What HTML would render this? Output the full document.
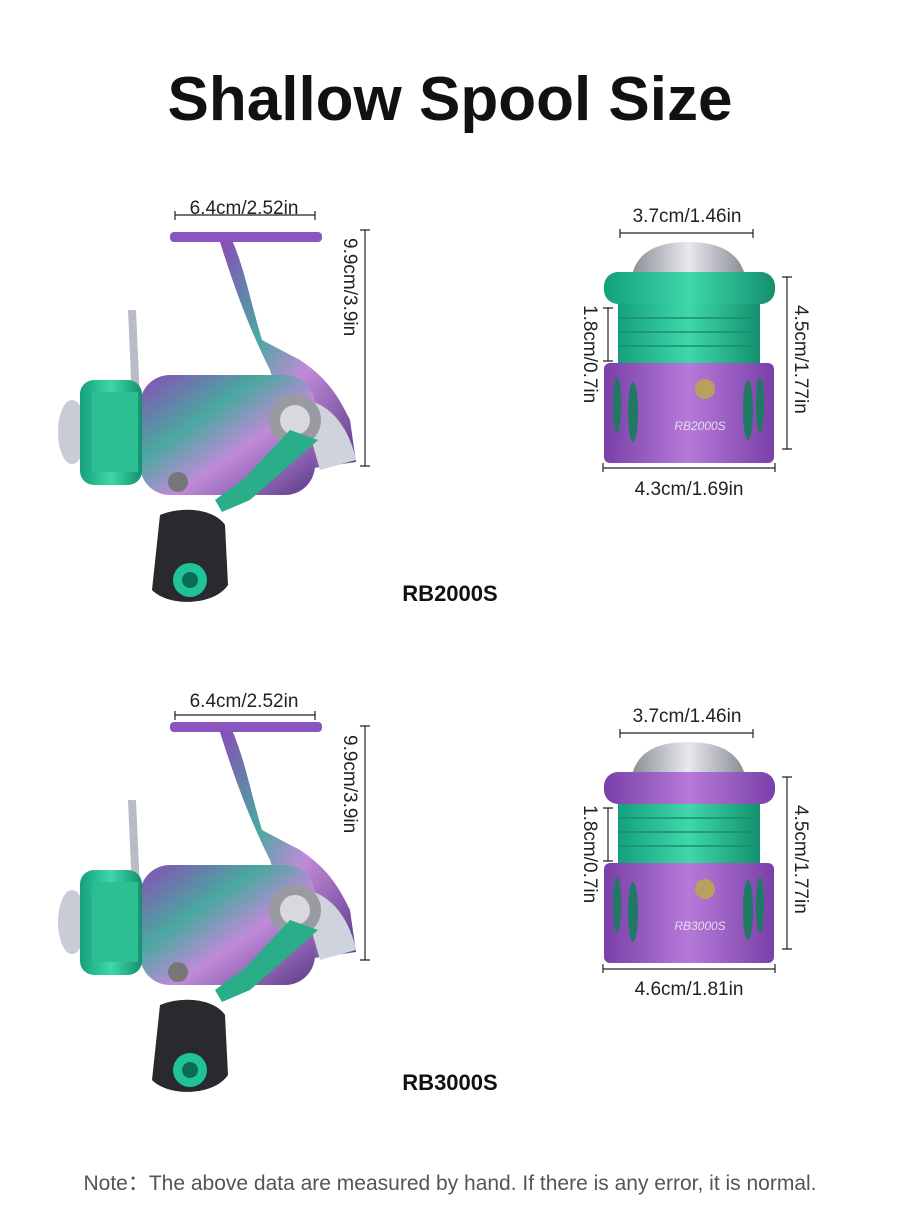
<!DOCTYPE html>
<html><head><meta charset="utf-8"><style>
body{margin:0;background:#fff;}
svg{display:block;font-family:"Liberation Sans",sans-serif;}
</style></head><body>
<svg width="900" height="1232" viewBox="0 0 900 1232" xmlns="http://www.w3.org/2000/svg">
<defs>
<linearGradient id="pg" x1="0" y1="0" x2="1" y2="0"><stop offset="0" stop-color="#7a3fa8"/><stop offset=".5" stop-color="#b57ad8"/><stop offset="1" stop-color="#7a3fa8"/></linearGradient>
<linearGradient id="gg" x1="0" y1="0" x2="1" y2="0"><stop offset="0" stop-color="#14a07c"/><stop offset=".5" stop-color="#3fd8aa"/><stop offset="1" stop-color="#13906e"/></linearGradient>
<linearGradient id="sg" x1="0" y1="0" x2="1" y2="0"><stop offset="0" stop-color="#8d8f98"/><stop offset=".5" stop-color="#e8e9ee"/><stop offset="1" stop-color="#8a8c95"/></linearGradient>
<linearGradient id="rb" x1="0" y1="0" x2="1" y2="1"><stop offset="0" stop-color="#8a4bb8"/><stop offset=".35" stop-color="#4aa8a0"/><stop offset=".6" stop-color="#c08ad8"/><stop offset="1" stop-color="#5a3a8a"/></linearGradient>
<g id="reel">
<rect x="170" y="232" width="152" height="10" rx="4" fill="#8a55c0"/>
<path d="M232 240 C245 270 250 300 262 340 L300 360 C330 380 340 400 350 420 L356 462 L300 470 L270 370 C250 330 235 290 220 242 Z" fill="url(#rb)"/>
<path d="M128 310 L136 310 L140 400 L132 400 Z" fill="#b8bcc6"/>
<rect x="140" y="375" width="175" height="120" rx="30" fill="url(#rb)"/>
<path d="M300 400 C330 400 350 430 356 460 L320 470 Z" fill="#cfd3dc"/>
<circle cx="295" cy="420" r="26" fill="#9a9aa2"/><circle cx="295" cy="420" r="15" fill="#d8d8dd"/>
<ellipse cx="72" cy="432" rx="14" ry="32" fill="#c8ccd6"/>
<rect x="80" y="380" width="62" height="105" rx="14" fill="url(#gg)"/>
<rect x="92" y="392" width="46" height="80" fill="#2bbf92"/>
<path d="M290 430 L318 440 L250 500 L222 512 L215 500 L245 478 Z" fill="#2aae8a"/>
<circle cx="178" cy="482" r="10" fill="#777"/>
<path d="M160 515 C185 505 215 510 225 525 L228 585 C215 605 170 608 152 590 Z" fill="#2a2a2e"/>
<circle cx="190" cy="580" r="17" fill="#1fc299"/><circle cx="190" cy="580" r="8" fill="#0c6b55"/>
</g>
<g id="spoolbase">
<path d="M632 275 C638 250 660 242 688 242 C716 242 738 250 745 275 Z" fill="url(#sg)"/>
<rect x="618" y="300" width="142" height="66" fill="url(#gg)"/>
<g stroke="#1a8d6c" stroke-width="1.5"><line x1="618" y1="318" x2="760" y2="318"/><line x1="618" y1="332" x2="760" y2="332"/><line x1="618" y1="346" x2="760" y2="346"/></g>
<rect x="604" y="363" width="170" height="100" rx="6" fill="url(#pg)"/>
<g fill="#1e7a63"><ellipse cx="617" cy="405" rx="4" ry="28"/><ellipse cx="633" cy="412" rx="5" ry="30"/><ellipse cx="760" cy="405" rx="4" ry="28"/><ellipse cx="748" cy="410" rx="5" ry="30"/></g>
<circle cx="705" cy="389" r="10" fill="#b8a060"/>
</g>
</defs>
<text x="450" y="120" text-anchor="middle" font-size="62" font-weight="bold" fill="#111">Shallow Spool Size</text>

<!-- block 1 -->
<use href="#reel"/>
<g stroke="#222" stroke-width="1.2" fill="none">
<path d="M175 211 V220 M175 215 H315 M315 211 V220"/>
<path d="M360 230 H370 M365 230 V466 M360 466 H370"/>
</g>
<text x="244" y="214" text-anchor="middle" font-size="19" fill="#222">6.4cm/2.52in</text>
<text transform="translate(344,238) rotate(90)" font-size="19" fill="#222">9.9cm/3.9in</text>
<text x="450" y="601" text-anchor="middle" font-size="22" font-weight="bold" fill="#111">RB2000S</text>

<use href="#spoolbase"/>
<rect x="604" y="272" width="171" height="32" rx="14" fill="url(#gg)"/>
<text x="700" y="430" text-anchor="middle" font-size="12" fill="#e8d8f0" font-style="italic">RB2000S</text>
<g stroke="#222" stroke-width="1.2" fill="none">
<path d="M620 229 V238 M620 233 H753 M753 229 V238"/>
<path d="M782 277 H792 M787 277 V449 M782 449 H792"/>
<path d="M603 308 H613 M608 308 V361 M603 361 H613"/>
<path d="M603 463 V472 M603 468 H775 M775 463 V472"/>
</g>
<text x="687" y="222" text-anchor="middle" font-size="19" fill="#222">3.7cm/1.46in</text>
<text x="689" y="495" text-anchor="middle" font-size="19" fill="#222">4.3cm/1.69in</text>
<text transform="translate(795,305) rotate(90)" font-size="19" fill="#222">4.5cm/1.77in</text>
<text transform="translate(584,305) rotate(90)" font-size="19" fill="#222">1.8cm/0.7in</text>

<!-- block 2 -->
<use href="#reel" transform="translate(0,490)"/>
<g stroke="#222" stroke-width="1.2" fill="none">
<path d="M175 711 V720 M175 715 H315 M315 711 V720"/>
<path d="M360 726 H370 M365 726 V960 M360 960 H370"/>
</g>
<text x="244" y="707" text-anchor="middle" font-size="19" fill="#222">6.4cm/2.52in</text>
<text transform="translate(344,735) rotate(90)" font-size="19" fill="#222">9.9cm/3.9in</text>
<text x="450" y="1090" text-anchor="middle" font-size="22" font-weight="bold" fill="#111">RB3000S</text>

<use href="#spoolbase" transform="translate(0,500)"/>
<rect x="604" y="772" width="171" height="32" rx="14" fill="url(#pg)"/>
<text x="700" y="930" text-anchor="middle" font-size="12" fill="#e8d8f0" font-style="italic">RB3000S</text>
<g stroke="#222" stroke-width="1.2" fill="none">
<path d="M620 729 V738 M620 733 H753 M753 729 V738"/>
<path d="M782 777 H792 M787 777 V949 M782 949 H792"/>
<path d="M603 808 H613 M608 808 V861 M603 861 H613"/>
<path d="M603 964 V973 M603 969 H775 M775 964 V973"/>
</g>
<text x="687" y="722" text-anchor="middle" font-size="19" fill="#222">3.7cm/1.46in</text>
<text x="689" y="995" text-anchor="middle" font-size="19" fill="#222">4.6cm/1.81in</text>
<text transform="translate(795,805) rotate(90)" font-size="19" fill="#222">4.5cm/1.77in</text>
<text transform="translate(584,805) rotate(90)" font-size="19" fill="#222">1.8cm/0.7in</text>

<text x="450" y="1190" text-anchor="middle" font-size="21" fill="#555">Note：The above data are measured by hand. If there is any error, it is normal.</text>
</svg>
</body></html>
